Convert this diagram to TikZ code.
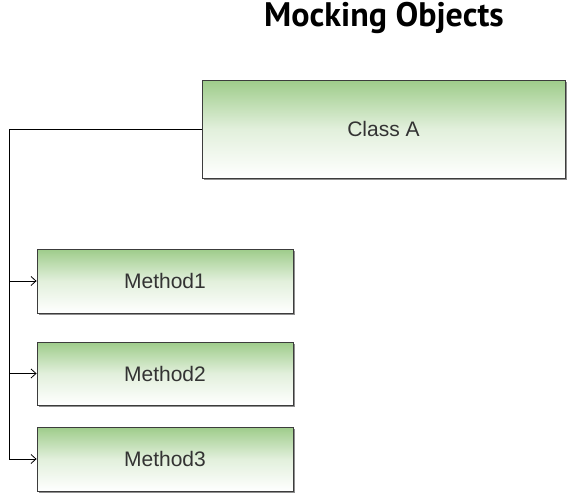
\documentclass[tikz,border=0pt]{standalone}
\usepackage{fontspec}
\setmainfont{Liberation Sans}
\newfontfamily\titlefont{PT Sans}
\usetikzlibrary{arrows.meta,shadows}
\definecolor{boxgreen}{RGB}{158,204,138}
\definecolor{boxline}{RGB}{60,60,60}
\tikzset{
  classbox/.style={draw=boxline, line width=0.8pt, top color=boxgreen, bottom color=white,
    middle color=boxgreen!30, shading angle=0,
    drop shadow={shadow xshift=2pt, shadow yshift=-2pt, fill=black!55, opacity=0.8},
    font=\fontsize{21}{25}\selectfont, text=black!80, inner sep=0pt},
  conn/.style={draw=black, line width=0.8pt},
  arr/.style={conn, -{Straight Barb[length=5pt,width=9pt]}},
}
\begin{document}
\begin{tikzpicture}[x=1pt,y=1pt]
\useasboundingbox (0,0) rectangle (584,-499);
\node (title) at (384,-18) {\titlefont\bfseries\fontsize{34}{38}\selectfont Mocking Objects};
\node[classbox, minimum width=363pt, minimum height=98pt] (classA) at (383.5,-129) {Class A};
\node[classbox, minimum width=256pt, minimum height=64pt] (m1) at (165,-281) {Method1};
\node[classbox, minimum width=256pt, minimum height=63pt] (m2) at (165,-373.5) {Method2};
\node[classbox, minimum width=256pt, minimum height=64pt] (m3) at (165,-459) {Method3};
\coordinate (top) at (9,-129);
\coordinate (j1) at (9,-281);
\coordinate (j2) at (9,-373.5);
\coordinate (j3) at (9,-459);
\draw[conn] (classA.west) -- (top) -- (j3);
\draw[arr] (j1) -- (m1.west);
\draw[arr] (j2) -- (m2.west);
\draw[arr] (j3) -- (m3.west);
\end{tikzpicture}
\end{document}
